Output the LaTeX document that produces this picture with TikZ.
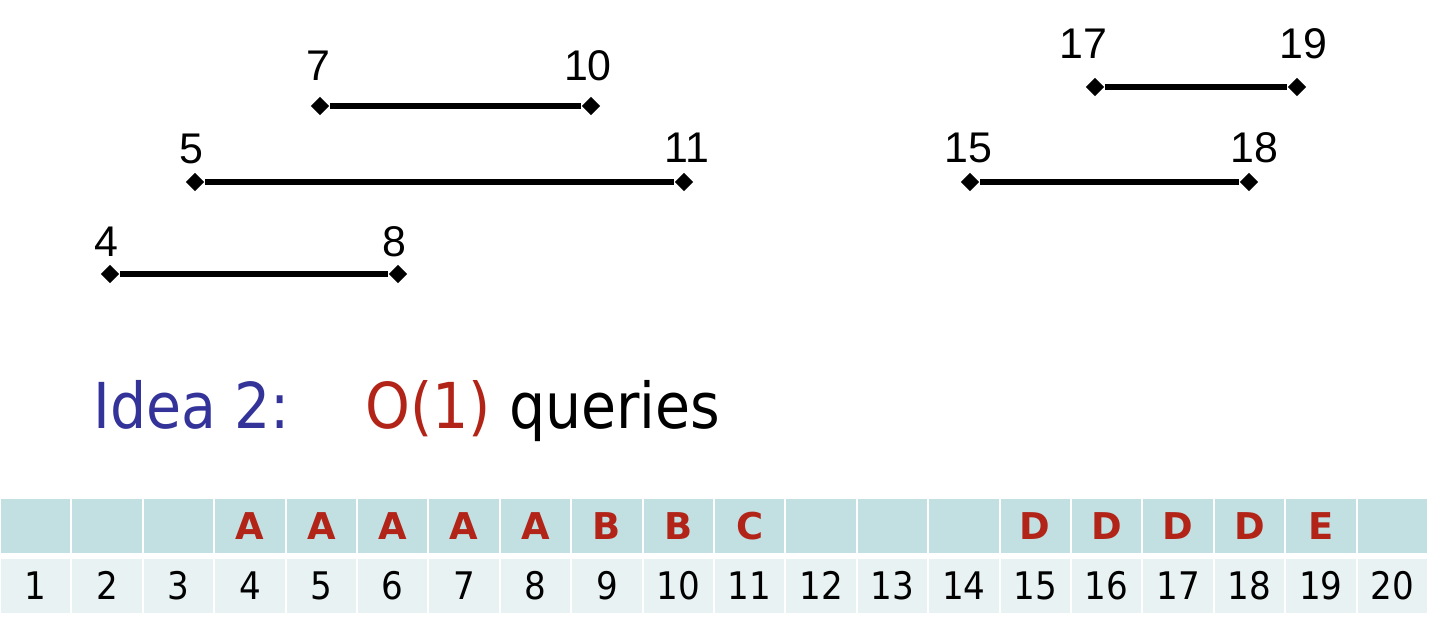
\documentclass[tikz,border=0pt]{standalone}
\usepackage{fontspec}
\setmainfont{Liberation Sans}
\newfontfamily\tahoma{DejaVu Sans Condensed}
\newfontfamily\verdana{DejaVu Sans}
\usetikzlibrary{shapes.geometric}
\definecolor{ideablue}{HTML}{333399}
\definecolor{letterred}{HTML}{B22418}
\definecolor{topfill}{HTML}{C2DFE2}
\definecolor{numfill}{HTML}{E8F2F3}

\begin{document}
\begin{tikzpicture}[x=0.01cm,y=-0.01cm]
\tikzset{end/.style={diamond,fill=black,inner sep=0,minimum size=0.19cm},
            seg/.style={line width=1.8pt},
            num/.style={anchor=base,inner sep=0,font=\fontsize{12.2}{14}\selectfont},
            topcell/.style={fill=topfill,minimum width=0.694cm,minimum height=0.54cm,inner sep=0,text height=0.27cm,text depth=0pt,text=letterred,font=\verdana\bfseries\fontsize{10.5}{12}\selectfont},
            numcell/.style={fill=numfill,minimum width=0.694cm,minimum height=0.54cm,inner sep=0,text height=0.27cm,text depth=0pt,font=\tahoma\fontsize{10.8}{12}\selectfont}}
\useasboundingbox (0,0) rectangle (1448,630);
% intervals
\node[end] (s7) at (320,106) {};
\node[end] (e10) at (591,106) {};
\node[end] (s5) at (195,182) {};
\node[end] (e11) at (684,182) {};
\node[end] (s4) at (110,274) {};
\node[end] (e8) at (398,274) {};
\node[end] (s17) at (1095,87) {};
\node[end] (e19) at (1297,87) {};
\node[end] (s15) at (970,182) {};
\node[end] (e18) at (1249,182) {};
\draw[seg] (s7) -- (e10);
\draw[seg] (s5) -- (e11);
\draw[seg] (s4) -- (e8);
\draw[seg] (s17) -- (e19);
\draw[seg] (s15) -- (e18);
\node[num] (l7) at (318,80) {7};
\node[num] (l10) at (588,80) {10};
\node[num] (l5) at (191,163) {5};
\node[num] (l11) at (687,162) {11};
\node[num] (l4) at (106,256) {4};
\node[num] (l8) at (394,256) {8};
\node[num] (l17) at (1083,58) {17};
\node[num] (l19) at (1303,58) {19};
\node[num] (l15) at (968,162) {15};
\node[num] (l18) at (1254,162) {18};
% title
\node[anchor=base west,inner sep=0,text=ideablue,font=\tahoma\fontsize{18}{22}\selectfont] (idea) at (93,428) {Idea 2:};
\node[anchor=base west,inner sep=0,font=\tahoma\fontsize{18}{22}\selectfont] (query) at (365,428) {\textcolor{letterred}{O(1)} queries};
% table
\foreach \l [count=\i] in {{},{},{},A,A,A,A,A,B,B,C,{},{},{},D,D,D,D,E,{}} {
    \node[topcell] (t\i) at ({71.4*\i-35.7},526) {\l};
    \node[numcell] (n\i) at ({71.4*\i-35.7},586) {\i};
}
\end{tikzpicture}
\end{document}
